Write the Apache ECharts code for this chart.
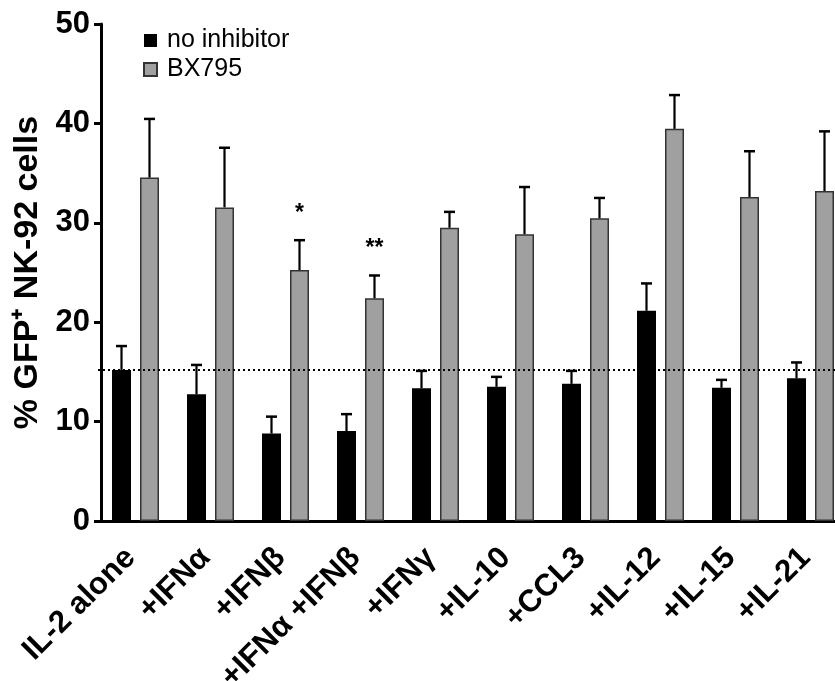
<!DOCTYPE html>
<html>
<head>
<meta charset="utf-8">
<script src="https://cdn.jsdelivr.net/npm/echarts@6/dist/echarts.min.js"></script>
<style>
html,body{margin:0;padding:0;background:#fff;}
#c{width:835px;height:681px;}
</style>
</head>
<body>
<div id="c"></div>
<script>
// ---- data ----
const categories = ['IL-2 alone', '+IFNα', '+IFNβ', '+IFNα +IFNβ', '+IFNγ', '+IL-10', '+CCL3', '+IL-12', '+IL-15', '+IL-21'];
const noInhibitorMean = [15.2, 12.75, 8.8, 9.05, 13.35, 13.5, 13.8, 21.15, 13.4, 14.35];
const noInhibitorErr  = [2.4, 2.95, 1.7, 1.7, 1.75, 1.0, 1.3, 2.75, 0.8, 1.6];
const bx795Mean = [34.55, 31.55, 25.25, 22.4, 29.5, 28.85, 30.45, 39.45, 32.6, 33.2];
const bx795Err  = [5.9, 6.0, 3.0, 2.3, 1.6, 4.75, 2.05, 3.4, 4.6, 6.0];
const significance = ['', '', '*', '**', '', '', '', '', '', ''];
const baselineValue = 15.2;
const yTicks = {min: 0, max: 50, interval: 10};

// ---- style constants ----
const FONT = 'Liberation Sans, Arial, Helvetica, sans-serif';
const BAR_W = 19;
const BAR_GAP_PX = 9;

function errSeries(name, means, errs, side, withSig) {
  return {
    type: 'custom',
    name: name + '_err',
    z: 5,
    silent: true,
    data: means.map((m, i) => [i, m, errs[i]]),
    renderItem: function (params, api) {
      const idx = api.value(0), m = api.value(1), e = api.value(2);
      const base = api.coord([idx, m]);
      const top = api.coord([idx, m + e]);
      const x = base[0] + side * (BAR_W + BAR_GAP_PX) / 2;
      const children = [
        {type: 'line', shape: {x1: x, y1: base[1], x2: x, y2: top[1]}, style: {stroke: '#000', lineWidth: 2.2}},
        {type: 'line', shape: {x1: x - 5.5, y1: top[1], x2: x + 5.5, y2: top[1]}, style: {stroke: '#000', lineWidth: 2.5}}
      ];
      if (withSig && significance[idx]) {
        children.push({type: 'text', style: {text: significance[idx], x: x, y: top[1] - 15,
          textAlign: 'center', textVerticalAlign: 'bottom', font: 'bold 23px ' + FONT, fill: '#000'}});
      }
      return {type: 'group', children: children};
    }
  };
}

const chart = echarts.init(document.getElementById('c'), null, {renderer: 'canvas'});
chart.setOption({
  animation: false,
  backgroundColor: '#fff',
  textStyle: {fontFamily: FONT},
  grid: {left: 98, right: -13, top: 24, bottom: 160, containLabel: false, outerBoundsMode: 'none'},
  legend: {
    orient: 'vertical', left: 143, top: 28, padding: 0, itemWidth: 13, itemHeight: 13, itemGap: 4,
    icon: 'rect',
    data: ['no inhibitor', 'BX795'],
    textStyle: {fontFamily: FONT, fontSize: 25, color: '#000', padding: [0, 0, 0, 5]}
  },
  xAxis: {
    type: 'category',
    data: categories,
    axisLine: {lineStyle: {color: '#000', width: 3}},
    axisTick: {alignWithLabel: true, length: 8, lineStyle: {color: '#000', width: 3}},
    axisLabel: {interval: 0, rotate: 45, margin: 27, padding: [0, 7, 0, 0], color: '#000', fontFamily: FONT, fontWeight: 'bold', fontSize: 31}
  },
  yAxis: {
    type: 'value',
    min: yTicks.min, max: yTicks.max, interval: yTicks.interval,
    offset: -3,
    name: '% GFP⁺ NK-92 cells',
    nameLocation: 'middle',
    nameGap: 52,
    nameTextStyle: {color: '#000', fontFamily: FONT, fontWeight: 'bold', fontSize: 34},
    axisLine: {show: true, lineStyle: {color: '#000', width: 3}},
    axisTick: {show: true, length: 7, lineStyle: {color: '#000', width: 3}},
    axisLabel: {margin: 11, color: '#000', fontFamily: FONT, fontWeight: 'bold', fontSize: 31},
    splitLine: {show: false}
  },
  series: [
    {
      type: 'bar', name: 'no inhibitor', data: noInhibitorMean,
      barWidth: BAR_W, barGap: (BAR_GAP_PX / BAR_W * 100) + '%',
      itemStyle: {color: '#000'},
      markLine: {
        silent: true, symbol: ['none', 'none'], label: {show: false},
        lineStyle: {color: '#000', type: [2, 3], width: 2},
        data: [{yAxis: baselineValue}]
      }
    },
    {
      type: 'bar', name: 'BX795', data: bx795Mean,
      barWidth: BAR_W,
      itemStyle: {color: '#a0a0a0', borderColor: '#333', borderWidth: 1.5}
    },
    errSeries('no inhibitor', noInhibitorMean, noInhibitorErr, -1, false),
    errSeries('BX795', bx795Mean, bx795Err, 1, true)
  ]
});
</script>
</body>
</html>
